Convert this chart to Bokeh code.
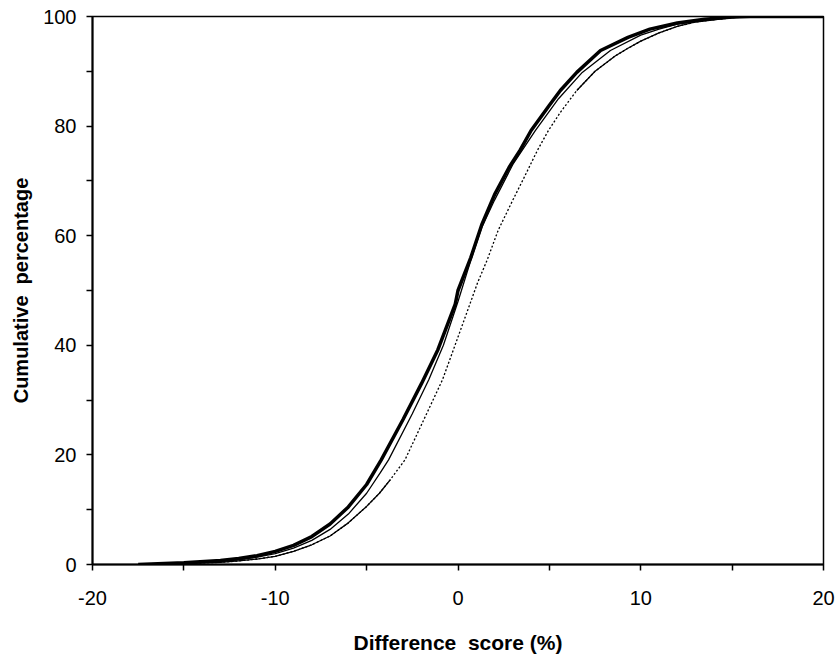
import numpy as np
from bokeh.plotting import figure
from bokeh.models import Range1d, FixedTicker, CustomJSTickFormatter
from bokeh.embed import file_html
from bokeh.resources import INLINE

# Axis ticks
x_ticks = [-20, -10, 0, 10, 20]
x_minor = [-15, -5, 5, 15]
y_ticks = [0, 20, 40, 60, 80, 100]
y_minor = [10, 30, 50, 70, 90]

# Curve A: thick group (cumulative %, by difference score)
a_x = [-17.5, -15, -13, -12, -11, -10, -9, -8, -7, -6, -5, -4.2, -3, -2, -1.1, -0.15, 0,
       0.7, 1.3, 2, 2.8, 3.4, 4, 5, 5.6, 6.5, 7.8, 9.3, 10.5, 12, 13.5, 15, 16, 20]
a_y = [0, 0.3, 0.75, 1.1, 1.6, 2.4, 3.5, 5.1, 7.4, 10.5, 14.6, 19.1, 26.5, 33, 39.2, 47.5, 50,
       56, 62, 67.5, 72.5, 75.6, 79.2, 83.8, 86.5, 89.8, 93.8, 96.2, 97.7, 98.8, 99.5, 99.9, 100, 100]

# Curve B: thin solid
b_x = [-17, -15, -13, -12, -11, -10, -9, -8, -7, -6, -5, -4.24, -3.8, -2.5, -1.6, -0.8, 0,
       0.7, 1.3, 2, 3, 4.24, 5.5, 6.8, 8.34, 10, 11, 12, 14, 16, 20]
b_y = [0, 0.2, 0.55, 0.85, 1.35, 2.0, 3.0, 4.4, 6.4, 9.2, 13, 16.8, 19.1, 27.5, 33.7, 40, 48,
       55.5, 61.5, 66.5, 73, 79.2, 85, 89.8, 93.8, 96.6, 97.7, 98.6, 99.6, 100, 100]

# Curve C: dotted (solid-looking in the tails)
c_x = [-17, -15, -13, -12, -11, -10, -9, -8, -7, -6, -5, -4.3, -3.7, -2.9, -2, -0.85, 0,
       1.07, 1.6, 2.2, 3, 3.6, 4.35, 4.95, 5.6, 6.5, 7.5, 8.6, 9.3, 10, 11, 12, 13, 15, 17, 20]
c_y = [0, 0.15, 0.4, 0.65, 1.0, 1.5, 2.4, 3.6, 5.2, 7.6, 10.6, 13, 15.5, 19.1, 25.5, 33.7, 41.5,
       51.4, 55.6, 61, 66.5, 70.5, 75.6, 79.2, 82.5, 86.5, 90.0, 92.8, 94.2, 95.5, 97.0, 98.2, 99.0, 99.8, 100, 100]

FONT = "Liberation Sans"

p = figure(width=836, height=656, output_backend="svg", toolbar_location=None,
           x_range=Range1d(-20, 20), y_range=Range1d(0, 100),
           min_border_left=92, min_border_right=13, min_border_top=16, min_border_bottom=91)
p.xgrid.visible = False
p.ygrid.visible = False
p.outline_line_color = "black"
p.outline_line_width = 1.5

p.xaxis.ticker = FixedTicker(ticks=x_ticks, minor_ticks=x_minor)
p.yaxis.ticker = FixedTicker(ticks=y_ticks, minor_ticks=y_minor)
p.xaxis.formatter = CustomJSTickFormatter(code="return tick.toFixed(0);")
p.yaxis.formatter = CustomJSTickFormatter(code="return tick.toFixed(0);")
p.xaxis.axis_label = "Difference\u00a0 score (%)"
p.yaxis.axis_label = "Cumulative\u00a0 percentage"

for ax in (p.xaxis[0], p.yaxis[0]):
    ax.axis_line_width = 2
    ax.axis_line_color = "black"
    ax.major_tick_in = 0
    ax.major_tick_out = 6
    ax.minor_tick_in = 0
    ax.minor_tick_out = 6
    ax.major_tick_line_width = 1.5
    ax.minor_tick_line_width = 1.5
    ax.major_tick_line_color = "black"
    ax.minor_tick_line_color = "black"
    ax.major_label_text_font = FONT
    ax.major_label_text_font_size = "20px"
    ax.major_label_text_color = "black"
    ax.axis_label_text_font = FONT
    ax.axis_label_text_font_style = "bold"
    ax.axis_label_text_color = "black"

p.xaxis.axis_label_text_font_size = "21px"
p.yaxis.axis_label_text_font_size = "20px"
p.xaxis.major_label_standoff = 20
p.xaxis.axis_label_standoff = 23
p.yaxis.major_label_standoff = 10
p.yaxis.axis_label_standoff = 8

# Curves
p.line(a_x, a_y, line_color="black", line_width=3.5)
p.line(b_x, b_y, line_color="black", line_width=1.3)

cx = np.array(c_x)
cy = np.array(c_y)
p.line(cx, cy, line_color="black", line_width=1.3, line_dash="2 2")
low = cy <= 16
high = cy >= 85
p.line(cx[low], cy[low], line_color="black", line_width=1.3)
p.line(cx[high], cy[high], line_color="black", line_width=1.3)

open("out.html", "w").write(file_html(p, INLINE))
